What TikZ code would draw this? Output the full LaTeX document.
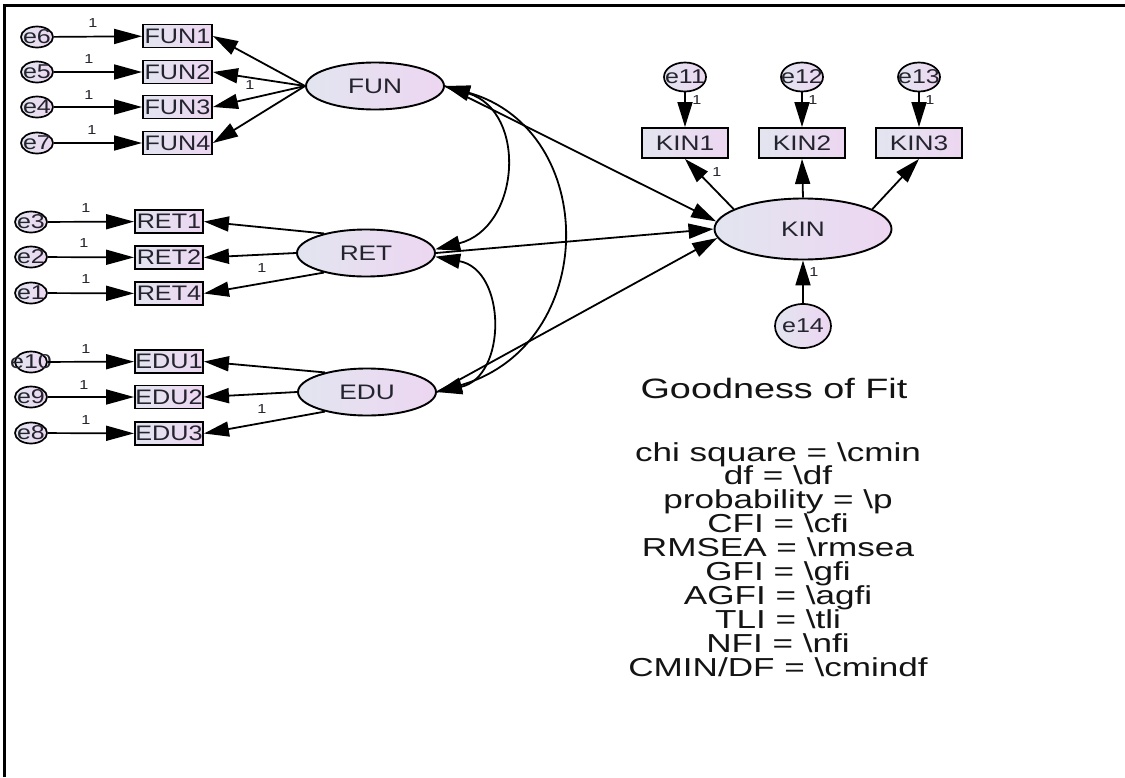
\documentclass[tikz,border=0pt]{standalone}
\usepackage{fontspec}
\setmainfont{Liberation Sans}
\newfontfamily\amos[FakeStretch=1.25]{Liberation Sans}
\newfontfamily\boxfont[FakeStretch=1.2]{Liberation Sans}
\newfontfamily\fitfont[FakeStretch=1.35]{Liberation Sans}
\usetikzlibrary{arrows.meta,shapes.geometric}

\definecolor{shadeL}{RGB}{226,229,240}
\definecolor{shadeR}{RGB}{237,214,241}
\definecolor{ink}{RGB}{36,36,46}

\tikzset{
  lat/.style={ellipse, draw, line width=1.9pt, left color=shadeL, right color=shadeR,
    minimum width=138pt, minimum height=47pt, inner sep=0pt,
    font=\amos\fontsize{21}{22}\selectfont, text=ink},
  obs/.style={rectangle, draw, line width=1.9pt, left color=shadeL, right color=shadeR,
    minimum width=69pt, minimum height=23pt, inner sep=0pt,
    font=\boxfont\fontsize{21}{22}\selectfont, text=ink},
  err/.style={ellipse, draw, line width=1.7pt, left color=shadeL, right color=shadeR,
    minimum width=32pt, minimum height=21pt, inner sep=0pt,
    font=\amos\fontsize{20}{21}\selectfont, text=ink},
  link/.style={line width=1.8pt, -{Triangle[length=25pt,width=15pt]}},
  errlink/.style={line width=1.7pt, -{Triangle[length=28pt,width=15pt]}},
  cov/.style={line width=1.8pt,
    {Triangle[length=25pt,width=15pt]}-{Triangle[length=25pt,width=15pt]}},
  one/.style={font=\amos\fontsize{13}{13}\selectfont, inner sep=0pt, text=ink},
  fitline/.style={font=\fitfont\fontsize{26}{27}\selectfont, inner sep=0pt, anchor=base, text=black!92},
}

\begin{document}
\begin{tikzpicture}[x=1pt,y=-1pt]
\useasboundingbox (0,0) rectangle (1125,777);
\fill[white] (0,0) rectangle (1125,777);

% frame
\draw[line width=3pt] (4,777) -- (4,5) -- (1125,5);

% latent variables
\node[lat] (FUN) at (375,86) {FUN};
\node[lat] (RET) at (366,253) {RET};
\node[lat] (EDU) at (367,392) {EDU};
\node[lat, minimum width=177pt, minimum height=61pt] (KIN) at (803,229) {KIN};

% indicators
\node[obs] (FUN1) at (177.5,36) {FUN1};
\node[obs] (FUN2) at (177.5,72) {FUN2};
\node[obs] (FUN3) at (177.5,107) {FUN3};
\node[obs] (FUN4) at (177.5,143) {FUN4};
\node[obs, minimum width=68pt] (RET1) at (169,221.5) {RET1};
\node[obs, minimum width=68pt] (RET2) at (169,257.5) {RET2};
\node[obs, minimum width=68pt] (RET4) at (169,293.5) {RET4};
\node[obs, minimum width=68pt] (EDU1) at (169,361.5) {EDU1};
\node[obs, minimum width=68pt] (EDU2) at (169,397) {EDU2};
\node[obs, minimum width=68pt] (EDU3) at (169,433.5) {EDU3};
\node[obs, minimum width=86pt, minimum height=30pt, font=\amos\fontsize{21}{22}\selectfont] (KIN1) at (685,143) {KIN1};
\node[obs, minimum width=86pt, minimum height=30pt, font=\amos\fontsize{21}{22}\selectfont] (KIN2) at (802,143) {KIN2};
\node[obs, minimum width=86pt, minimum height=30pt, font=\amos\fontsize{21}{22}\selectfont] (KIN3) at (919,143) {KIN3};

% error terms
\node[err] (e6) at (37,37) {\makebox[0pt]{e6}};
\node[err] (e5) at (37,72) {\makebox[0pt]{e5}};
\node[err] (e4) at (37,107) {\makebox[0pt]{e4}};
\node[err] (e7) at (37,143) {\makebox[0pt]{e7}};
\node[err] (e3) at (31,222) {\makebox[0pt]{e3}};
\node[err] (e2) at (31,257) {\makebox[0pt]{e2}};
\node[err] (e1) at (31,293) {\makebox[0pt]{e1}};
\node[err] (e10) at (31,362) {\makebox[0pt]{e10}};
\node[err] (e9) at (31,397) {\makebox[0pt]{e9}};
\node[err] (e8) at (31,433) {\makebox[0pt]{e8}};
\node[err, minimum width=42pt, minimum height=29pt] (e11) at (685,77) {\makebox[0pt]{e11}};
\node[err, minimum width=42pt, minimum height=29pt] (e12) at (802,77) {\makebox[0pt]{e12}};
\node[err, minimum width=42pt, minimum height=29pt] (e13) at (919,77) {\makebox[0pt]{e13}};
\node[err, minimum width=56pt, minimum height=44pt] (e14) at (803,326) {\makebox[0pt]{e14}};

% error paths
\foreach \e/\v in {e6/FUN1,e5/FUN2,e4/FUN3,e7/FUN4,e3/RET1,e2/RET2,e1/RET4,e10/EDU1,e9/EDU2,e8/EDU3}
  \draw[errlink] (\e) -- (\v);
\draw[link] (e11) -- (KIN1);
\draw[link] (e12) -- (KIN2);
\draw[link] (e13) -- (KIN3);
\draw[link] (e14) -- (KIN);

% loadings
\foreach \v in {FUN1,FUN2,FUN3,FUN4}
  \draw[link] (FUN.west) -- (\v.east);
\draw[link] (RET.155) -- (RET1.east);
\draw[link] (RET.west) -- (RET2.east);
\draw[link] (RET.205) -- (RET4.east);
\draw[link] (EDU.155) -- (EDU1.east);
\draw[link] (EDU.west) -- (EDU2.east);
\draw[link] (EDU.205) -- (EDU3.east);
\draw[link] (KIN.164) -- (KIN1.south);
\draw[link] (KIN.north) -- (KIN2.south);
\draw[link] (KIN.16) -- (KIN3.south);

% structural paths
\draw[link] (FUN.east) -- (KIN.175);
\draw[link] (RET.east) -- (KIN.west);
\draw[link] (EDU.east) -- (KIN.186);

% covariances
\draw[cov] (FUN.east) .. controls (528,112) and (520,228) .. (RET.3);
\draw[cov] (FUN.east) .. controls (600,130) and (600,345) .. (EDU.east);
\draw[cov] (RET.-3) .. controls (507,270) and (507,377) .. (EDU.east);

% fixed parameter labels
\node[one] (l6) at (93,23) {1};
\node[one] (l5) at (89,59) {1};
\node[one] (l4) at (89,95) {1};
\node[one] (l7) at (92,130) {1};
\node[one] (l3) at (86,208) {1};
\node[one] (l2) at (84,243) {1};
\node[one] (l1) at (86,279) {1};
\node[one] (l10) at (86,349) {1};
\node[one] (l9) at (84,385) {1};
\node[one] (l8) at (86,420) {1};
\node[one] (lfun) at (250,85) {1};
\node[one] (lret) at (262,268) {1};
\node[one] (ledu) at (262,409) {1};
\node[one] (l11) at (697,100) {1};
\node[one] (l12) at (813,100) {1};
\node[one] (l13) at (930,100) {1};
\node[one] (lkin) at (717,172) {1};
\node[one] (l14) at (814,272) {1};

% fit summary
\node[fitline, font=\fitfont\fontsize{28}{29}\selectfont] (fittitle) at (774,398) {Goodness of Fit};
\foreach \txt [count=\i from 0] in {
  chi square = \textbackslash cmin,
  df = \textbackslash df,
  probability = \textbackslash p,
  CFI = \textbackslash cfi,
  RMSEA = \textbackslash rmsea,
  GFI = \textbackslash gfi,
  AGFI = \textbackslash agfi,
  TLI = \textbackslash tli,
  NFI = \textbackslash nfi,
  CMIN/DF = \textbackslash cmindf}
  \node[fitline] (fit\i) at (778,{461+23.9*\i}) {\txt};
\end{tikzpicture}
\end{document}
